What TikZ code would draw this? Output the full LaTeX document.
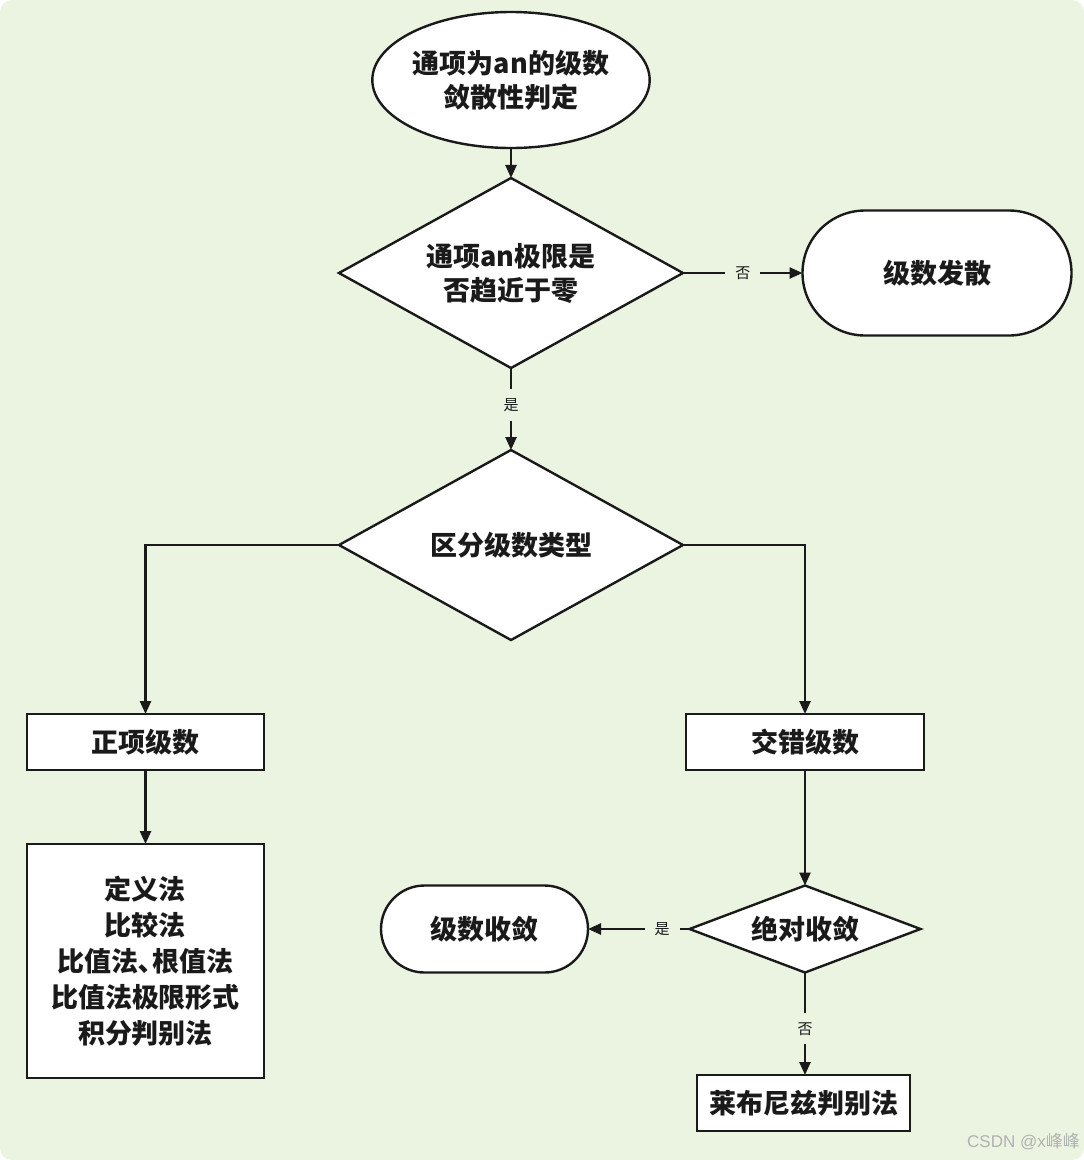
\documentclass[tikz,border=0pt]{standalone}
\usepackage{fontspec}
\setmainfont{Noto Sans CJK SC}
\newfontfamily\wmfont{Liberation Sans}
\usetikzlibrary{shapes.geometric,shapes.misc,arrows.meta}
\definecolor{bg}{HTML}{EAF4E0}
\definecolor{ink}{HTML}{1A1A1A}
\begin{document}
\begin{tikzpicture}[x=1pt,y=-1pt,
  base/.style={draw=ink, line width=2.4pt, fill=white, text=ink, align=center,
    inner sep=0pt, outer sep=0pt, font=\fontsize{27}{34}\selectfont\bfseries},
  termell/.style={base, ellipse, minimum width=268pt, minimum height=136pt},
  decbox/.style={base, diamond},
  procbox/.style={base, rectangle},
  stadbox/.style={base, rounded rectangle},
  arr/.style={draw=ink, line width=2.4pt, -{Triangle[length=13pt,width=11pt]}},
  lbl/.style={fill=bg, text=ink, inner xsep=10pt, inner ysep=9pt, font=\fontsize{15}{17}\selectfont}
]
\useasboundingbox (0,0) rectangle (1084,1160);
\fill[white] (0,0) rectangle (1084,1160);
\fill[bg, rounded corners=12pt] (0,0) rectangle (1084,1160);

\node[termell] (start) at (511,80) {通项为an的级数\\敛散性判定};
\node[decbox, aspect=1.81, minimum width=344pt, minimum height=190pt] (d1) at (511,273) {通项an极限是\\否趋近于零};
\node[stadbox, minimum width=269pt, minimum height=125pt] (div) at (937,273) {级数发散};
\node[decbox, aspect=1.81, minimum width=344pt, minimum height=190pt] (d2) at (511,545) {区分级数类型};
\node[procbox, minimum width=237pt, minimum height=56pt] (pos) at (145.5,742) {正项级数};
\node[procbox, minimum width=238pt, minimum height=56pt] (alt) at (805,742) {交错级数};
\node[procbox, minimum width=237pt, minimum height=234pt, font=\fontsize{27}{36}\selectfont\bfseries] (methods) at (145.5,961)
  {定义法\\比较法\\比值法､根值法\\比值法极限形式\\积分判别法};
\node[decbox, aspect=2.66, minimum width=231pt, minimum height=87pt] (d3) at (805,929) {绝对收敛};
\node[stadbox, minimum width=207pt, minimum height=87pt] (conv) at (484.5,929) {级数收敛};
\node[procbox, minimum width=213pt, minimum height=56pt] (leib) at (803.5,1103) {莱布尼兹判别法};

\draw[arr] (start) -- (d1);
\draw[arr] (d1.east) -- node[lbl, pos=0.5] {否} (div.west);
\draw[arr] (d1.south) -- node[lbl, pos=0.45] {是} (d2.north);
\draw[arr] (d2.west) -| (pos.north);
\draw[arr] (d2.east) -| (alt.north);
\draw[arr] (pos) -- (methods);
\draw[arr] (alt) -- (d3);
\draw[arr] (d3.west) -- node[lbl, pos=0.27] {是} (conv.east);
\draw[arr] (d3.south) -- node[lbl, pos=0.55] {否} (d3.south |- leib.north);

\node[anchor=east, text=black!30, font=\fontsize{17}{20}\selectfont, inner sep=0pt] (wm) at (1080,1142) {{\wmfont CSDN @x}峰峰};
\end{tikzpicture}
\end{document}
